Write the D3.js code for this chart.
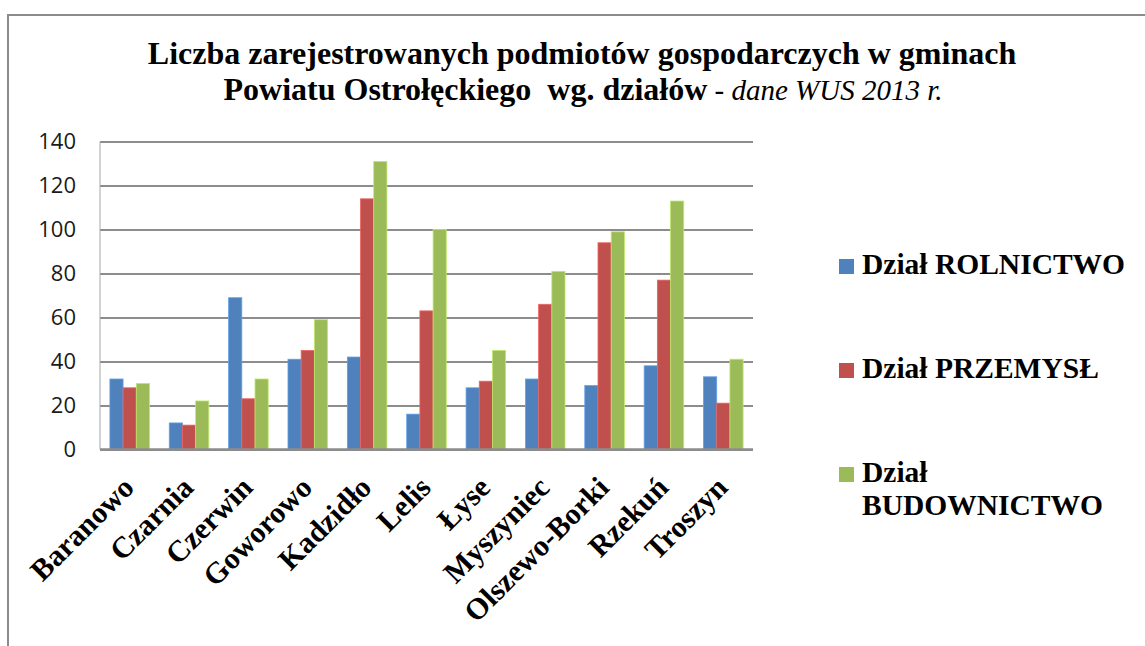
<!DOCTYPE html>
<html lang="pl">
<head>
<meta charset="utf-8">
<title>Podmioty gospodarcze - Powiat Ostrołęcki</title>
<script src="https://d3js.org/d3.v7.min.js"></script>
<style>
body { margin: 0; background: #fff; }
.yaxis text { font-family: "Open Sans", sans-serif; font-size: 22px; fill: #1a1a1a; }
.yaxis line { stroke: #8c8c8c; stroke-width: 1.6; shape-rendering: crispEdges; }
.yaxis path { display: none; }
.xaxis path, .xaxis line { display: none; }
.xaxis text { font-family: "Liberation Serif", serif; font-weight: bold; font-size: 30px; fill: #000; }
.title { font-family: "Liberation Serif", serif; font-size: 32px; fill: #000; white-space: pre; }
.legend text { font-family: "Liberation Serif", serif; font-weight: bold; font-size: 29.5px; fill: #000; }
</style>
</head>
<body>
<div id="chart"></div>
<script>
// dane WUS 2013
var gminy = ["Baranowo", "Czarnia", "Czerwin", "Goworowo", "Kadzidło", "Lelis", "Łyse", "Myszyniec", "Olszewo-Borki", "Rzekuń", "Troszyn"];
var rolnictwo = [32, 12, 69, 41, 42, 16, 28, 32, 29, 38, 33];
var przemysl = [28, 11, 23, 45, 114, 63, 31, 66, 94, 77, 21];
var budownictwo = [30, 22, 32, 59, 131, 100, 45, 81, 99, 113, 41];
var serie = ["Dział ROLNICTWO", "Dział PRZEMYSŁ", "Dział BUDOWNICTWO"];
var kolory = ["#4f81bd", "#c0504d", "#9bbb59"];
var yTicks = [0, 20, 40, 60, 80, 100, 120, 140];

var w = 1145, h = 646;
var plot = {left: 100, right: 753, top: 141.7, bottom: 449.3};

var svg = d3.select("#chart").append("svg")
    .attr("width", w)
    .attr("height", h);

// ramka wykresu
svg.append("rect")
    .attr("x", 8).attr("y", 15)
    .attr("width", 1200).attr("height", 700)
    .attr("fill", "none")
    .attr("stroke", "#8c8c8c")
    .attr("stroke-width", 2);

var xScale = d3.scaleBand()
    .domain(gminy)
    .range([plot.left, plot.right])
    .paddingInner(1 / 3)
    .paddingOuter(1 / 6);

var xInner = d3.scaleBand()
    .domain(d3.range(serie.length))
    .range([0, xScale.bandwidth()]);

var yScale = d3.scaleLinear()
    .domain([0, 140])
    .range([plot.bottom, plot.top]);

// siatka + etykiety osi Y
svg.append("g")
    .attr("class", "yaxis")
    .attr("transform", "translate(" + plot.left + ",0)")
    .call(d3.axisLeft(yScale).tickValues(yTicks).tickSize(-(plot.right - plot.left)).tickPadding(24))
    .selectAll(".tick text")
    .attr("x", -24);

// os pionowa
svg.append("line")
    .attr("x1", plot.left).attr("x2", plot.left)
    .attr("y1", plot.top).attr("y2", plot.bottom)
    .attr("stroke", "#a6a6a6")
    .attr("stroke-width", 1);

// slupki
var rows = gminy.map(function (g, i) {
    return {gmina: g, values: [rolnictwo[i], przemysl[i], budownictwo[i]]};
});

var groups = svg.selectAll(".grupa")
    .data(rows)
    .enter().append("g")
    .attr("class", "grupa")
    .attr("transform", function (d) { return "translate(" + xScale(d.gmina) + ",0)"; });

groups.selectAll("rect")
    .data(function (d) { return d.values; })
    .enter().append("rect")
    .attr("x", function (d, i) { return xInner(i); })
    .attr("y", function (d) { return yScale(d); })
    .attr("width", xInner.bandwidth())
    .attr("height", function (d) { return yScale(0) - yScale(d); })
    .attr("fill", function (d, i) { return kolory[i]; })
    .attr("stroke", function (d, i) { return d3.color(kolory[i]).brighter(0.6); })
    .attr("stroke-width", 0.8);

// os pozioma
svg.append("line")
    .attr("x1", plot.left).attr("x2", plot.right)
    .attr("y1", plot.bottom).attr("y2", plot.bottom)
    .attr("stroke", "#8c8c8c")
    .attr("stroke-width", 2);

svg.append("g")
    .attr("class", "xaxis")
    .attr("transform", "translate(0," + plot.bottom + ")")
    .call(d3.axisBottom(xScale).tickSize(0))
    .selectAll(".tick text")
    .attr("x", 0).attr("y", 0).attr("dy", 0)
    .style("text-anchor", "end")
    .attr("transform", "translate(6,40) rotate(-45)");

// tytul
var title = svg.append("text")
    .attr("class", "title")
    .attr("text-anchor", "middle");

title.append("tspan")
    .attr("x", 582).attr("y", 64)
    .style("font-weight", "bold")
    .text("Liczba zarejestrowanych podmiotów gospodarczych w gminach");

var line2 = title.append("tspan")
    .attr("x", 583).attr("y", 100);
line2.append("tspan")
    .style("font-weight", "bold")
    .text("Powiatu Ostrołęckiego  wg. działów");
line2.append("tspan")
    .style("font-style", "italic")
    .style("font-size", "29px")
    .text(" - dane WUS 2013 r.");

// legenda
var legend = svg.append("g")
    .attr("class", "legend")
    .attr("transform", "translate(839,274)");

var items = legend.selectAll("g")
    .data(serie)
    .enter().append("g")
    .attr("transform", function (d, i) { return "translate(0," + (i * 104) + ")"; });

items.append("rect")
    .attr("x", 0).attr("y", -15)
    .attr("width", 15).attr("height", 15)
    .attr("fill", function (d, i) { return kolory[i]; });

items.each(function (d) {
    var t = d3.select(this).append("text").attr("x", 23).attr("y", 0).text(d);
    // zawijanie zbyt dlugiej etykiety
    if (t.node().getComputedTextLength() > 290) {
        var parts = d.split(" ");
        t.text(null);
        parts.forEach(function (p, k) {
            t.append("tspan").attr("x", 23).attr("dy", k === 0 ? 0 : 33).text(p);
        });
    }
});
</script>
</body>
</html>
